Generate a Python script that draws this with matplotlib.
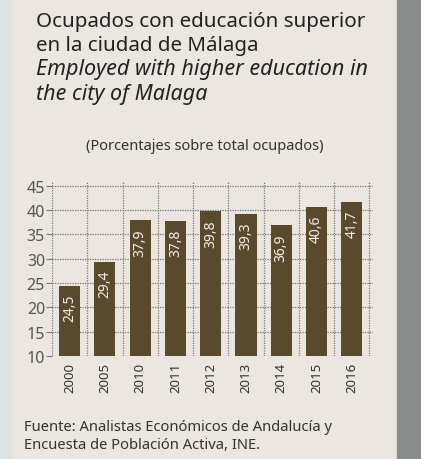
import matplotlib.pyplot as plt
from matplotlib.patches import Rectangle

years = ['2000', '2005', '2010', '2011', '2012', '2013', '2014', '2015', '2016']
values = [24.5, 29.4, 37.9, 37.8, 39.8, 39.3, 36.9, 40.6, 41.7]
labels = ['24,5', '29,4', '37,9', '37,8', '39,8', '39,3', '36,9', '40,6', '41,7']
yticks = [10, 15, 20, 25, 30, 35, 40, 45]

plt.rcParams['font.family'] = ['Noto Sans', 'DejaVu Sans']

fig = plt.figure(figsize=(4.21, 4.6), dpi=100)
fig.patch.set_facecolor('#ebe6df')
# side strips
fig.patches.append(Rectangle((0, 0), 11 / 421, 1, transform=fig.transFigure,
                             color='#dde2e5', zorder=0))
fig.patches.append(Rectangle((397 / 421, 0), 24 / 421, 1, transform=fig.transFigure,
                             color='#8a8c8c', zorder=0))


def line(y, s, **kw):
    fig.text(36 / 421, 1 - y / 460, s, color='#222222', va='baseline', **kw)


# titles, one text per line
line(27, 'Ocupados con educación superior', fontsize=14.8, fontweight='medium')
line(51, 'en la ciudad de Málaga', fontsize=14.8, fontweight='medium')
line(75, 'Employed with higher education in', fontsize=15.5, style='italic')
line(100, 'the city of Malaga', fontsize=15.5, style='italic')
fig.text(205 / 421, 1 - 150 / 460, '(Porcentajes sobre total ocupados)',
         fontsize=10.5, color='#333333', ha='center', va='baseline')
fig.text(24 / 421, 1 - 431 / 460, 'Fuente: Analistas Económicos de Andalucía y',
         fontsize=10.6, color='#333333', va='baseline')
fig.text(24 / 421, 1 - 449 / 460, 'Encuesta de Población Activa, INE.',
         fontsize=10.6, color='#333333', va='baseline')

ax = fig.add_axes([52 / 421, 1 - 357 / 460, (373 - 52) / 421, (357 - 182) / 460])
ax.set_facecolor('none')
x = range(len(years))
ax.bar(x, values, width=0.6, color='#5a4a2d', zorder=3)
for i, (v, lab) in enumerate(zip(values, labels)):
    ax.text(i, v - 1.6, lab, rotation=90, ha='center', va='top',
            color='#f2eee6', fontsize=10, zorder=4)

ax.set_xlim(-0.5, 8.6)
ax.set_ylim(10, 46)
ax.set_yticks(yticks)
ax.set_yticklabels([str(t) for t in yticks], fontsize=11.5, color='#555555')
ax.set_xticks(list(x))
ax.set_xticklabels(years, rotation=90, fontsize=9.5, fontweight='bold', color='#333333')
ax.tick_params(axis='x', length=0, pad=4)
ax.tick_params(axis='y', length=4, width=0.8, color='#777777', pad=1)

for t in yticks:
    ax.axhline(t, color='#777777', lw=0.9, ls=(0, (1, 1)), zorder=1)
for i in range(-1, len(years)):
    ax.axvline(i + 0.5, color='#777777', lw=0.9, ls=(0, (1, 1)), zorder=1)
for s in ax.spines.values():
    s.set_visible(False)

fig.savefig('out.png', dpi=100, facecolor=fig.get_facecolor())
